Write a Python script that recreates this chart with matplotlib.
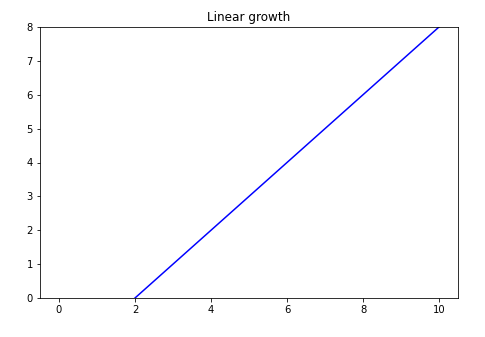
import matplotlib
matplotlib.use('Agg')
import matplotlib.pyplot as plt

x = [0, 1, 2, 3, 4, 5, 6, 7, 8, 9, 10]
y = [-2, -1, 0, 1, 2, 3, 4, 5, 6, 7, 8]

fig = plt.figure(figsize=(485 / 72, 337 / 72), dpi=72)
ax = fig.add_axes([40 / 485, 1 - 298 / 337, 418 / 485, 271 / 337])
ax.plot(x, y, color='blue')
ax.set_ylim(0, 8)
ax.set_title('Linear growth')
fig.savefig('out.png', dpi=72)
